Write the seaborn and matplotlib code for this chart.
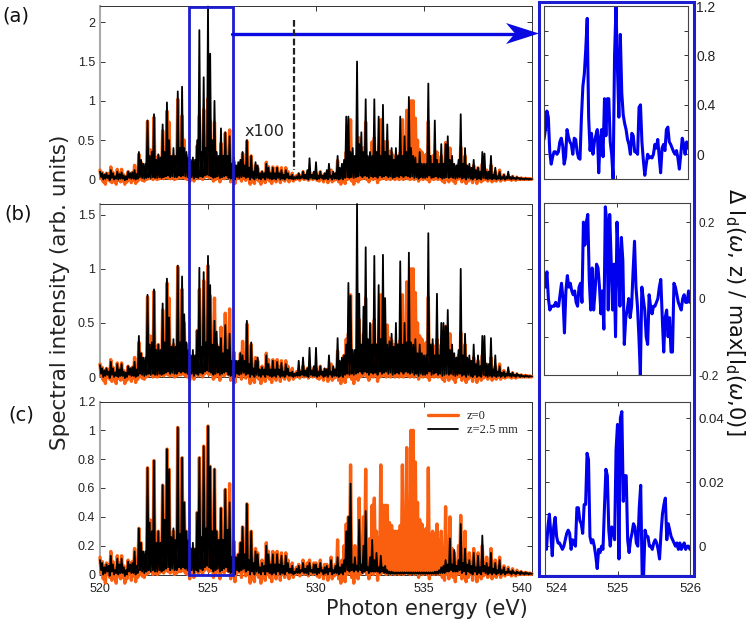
import numpy as np
import matplotlib
matplotlib.use('Agg')
import matplotlib.pyplot as plt
from matplotlib.patches import Rectangle, Polygon
import seaborn as sns

# z=0 spectrum (same one in all panels): tops every 0.1 eV, dips halfway between them
orange_top = [
    .12, .09, .06, .08, .07, .16, .09, .04, .13, .08,
    .13, .06, .04, .1, .08, .09, .18, .07, .32, .22,
    .14, .12, .74, .38, .37, .79, .2, .3, .2, .62,
    .38, .87, .73, .25, .3, .2, 1.02, .28, .81, .5,
    .3, .2, .1, .18, .12, .43, .81, .25, .89, .35,
    1.03, .75, .3, .73, .3, .2, .46, .25, .59, .31,
    .63, .08, .23, .1, .14, .22, .33, .15, .49, .08,
    .3, .1, .18, .15, .06, .1, .07, .22, .16, .08,
    .16, .08, .16, .09, .15, .07, .15, .1, .05, .08,
    .03, .05, .07, .04, .1, .05, .08, .1, .04, .08,
    .08, .05, .1, .04, .07, .07, .05, .12, .04, .07,
    .24, .08, .1, .2, .35, .4, .76, .08, .2, .1,
    .53, .2, .4, .73, .2, .25, .48, .53, .3, .25,
    .76, .48, .48, .48, .36, .34, .3, .3, .3, .34,
    .76, .36, .88, .5, 1.0, 1.0, .78, .5, .38, .35,
    .3, .32, .74, .28, .3, .28, .35, .24, .3, .18,
    .47, .15, .4, .18, .15, .08, .2, .41, .1, .3,
    .1, .15, .08, .18, .06, .15, .05, .2, .08, .12,
    .06, .18, .05, .1, .03, .12, .03, .06, .02, .05,
    .02, .04, .01, .03, .01, .02, .01, .015, .01, .01,
    .005,
]
orange_dip = [
    .01, -.03, -.06, 0, -.02, -.04, 0, -.06, -.01, -.03,
    -.02, -.06, -.03, 0, -.04, -.01, -.05, -.02, .01, -.01,
    -.02, 0, .01, .02, 0, .01, 0, .01, .02, .01,
    .03, .02, .01, .02, 0, .01, .02, .02, .03, .01,
    0, -.03, .01, -.02, .02, .01, .02, 0, .03, .04,
    .02, .03, -.02, 0, .02, -.03, .02, .01, .03, .02,
    -.03, 0, -.05, .01, .02, -.02, .02, -.01, .01, -.06,
    -.03, -.05, 0, -.02, -.06, .01, -.04, 0, -.02, -.05,
    0, -.03, .01, -.04, 0, -.02, .01, -.03, .01, -.02,
    0, .01, -.01, .02, 0, .01, -.01, .01, 0, .01,
    -.01, -.02, 0, -.03, .01, -.04, 0, -.03, -.01, 0,
    -.03, -.06, -.02, -.05, 0, .01, -.02, -.06, -.01, -.03,
    0, .01, .02, 0, -.03, .01, 0, .02, -.04, 0,
    .01, .02, 0, .01, 0, .02, 0, .01, 0, .01,
    0, .02, .01, 0, .01, 0, .02, -.02, .01, 0,
    .01, 0, -.03, .01, 0, .01, 0, .01, -.02, -.04,
    0, -.03, .01, -.02, -.05, 0, .01, -.03, 0, -.05,
    -.02, 0, -.04, 0, -.05, 0, -.03, -.01, 0, -.02,
    0, -.03, -.01, -.02, 0, -.02, 0, -.01, 0, 0,
    -.01, 0, -.01, 0, 0, 0, 0, 0, 0, 0,
]

# z=2.5 mm spectra for panels (a), (b), (c)
black_a_top = [
    .1, .08, .06, .08, .05, .12, .08, .04, .1, .07,
    .09, .05, .04, .1, .08, .09, .12, .07, .35, .25,
    .2, .2, .75, .3, .35, .83, .25, .32, .28, .7,
    .35, .98, .5, .3, .4, .3, 1.12, .4, 1.18, .4,
    .35, .28, .25, .28, .25, .5, 1.9, .35, 1.3, .4,
    2.2, 1.6, .5, 1.0, .35, .3, .65, .3, .6, .3,
    .55, .2, .28, .18, .22, .25, .35, .18, .5, .15,
    .3, .1, .22, .18, .08, .1, .08, .2, .15, .08,
    .15, .08, .15, .08, .12, .06, .12, .08, .04, .06,
    .03, .04, .08, .04, .1, .06, .12, .27, .06, .1,
    .22, .05, .1, .05, .08, .12, .2, .05, .1, .08,
    .3, .15, .2, .25, .8, .8, .35, .4, .3, 1.5,
    .45, .6, .35, 1.02, .3, .35, .3, 1.02, .35, .8,
    .3, .95, .35, .7, .3, .4, .25, .4, .3, .8,
    .3, .55, .35, 1.05, .4, .3, .28, .2, .35, .2,
    .2, .2, 1.22, .3, .2, .75, .25, .2, .45, .2,
    .45, .55, .25, .3, .2, .18, .25, .83, .2, .4,
    .18, .2, .15, .25, .12, .15, .1, .35, .33, .1,
    .1, .3, .06, .15, .04, .1, .03, .06, .03, .1,
    .03, .04, .02, .03, .02, .02, .01, .015, .01, .01,
    .005,
]
black_b_top = [
    .11, .08, .06, .08, .05, .14, .08, .04, .12, .07,
    .12, .05, .04, .1, .08, .09, .14, .07, .38, .22,
    .18, .18, .76, .3, .32, .81, .25, .3, .25, .68,
    .32, .91, .55, .28, .35, .28, 1.03, .32, .93, .58,
    .32, .25, .2, .25, .2, .43, 1.01, .28, .97, .32,
    1.12, .85, .3, .52, .42, .28, .36, .22, .48, .25,
    .4, .15, .2, .15, .15, .22, .2, .15, .52, .12,
    .32, .08, .15, .18, .07, .09, .07, .2, .12, .07,
    .15, .07, .14, .07, .13, .05, .12, .08, .04, .05,
    .03, .04, .15, .05, .18, .06, .08, .27, .06, .1,
    .27, .05, .1, .05, .08, .07, .2, .05, .1, .07,
    .36, .15, .18, .2, .3, .87, .75, .25, .25, 1.6,
    .77, .3, .65, 1.2, .35, .5, .3, 1.12, .3, .85,
    .35, 1.13, .73, .3, .33, .4, .28, .5, .3, 1.07,
    .3, .5, .32, 1.15, .32, .3, .35, .22, .3, .22,
    .2, .2, 1.33, .3, .35, .2, .77, .2, .5, .5,
    .47, .62, .25, .3, .22, .18, .25, 1.0, .2, .4,
    .18, .2, .15, .3, .12, .2, .1, .38, .38, .12,
    .12, .36, .07, .2, .05, .1, .04, .05, .03, .09,
    .03, .04, .02, .03, .02, .02, .01, .015, .01, .01,
    .005,
]
black_c_top = [
    .1, .08, .05, .07, .06, .13, .07, .03, .11, .07,
    .11, .05, .03, .09, .07, .08, .16, .06, .32, .22,
    .16, .16, .74, .36, .3, .79, .22, .3, .22, .62,
    .38, .87, .73, .26, .32, .24, 1.02, .28, .81, .5,
    .3, .24, .18, .22, .18, .43, .81, .26, .89, .32,
    1.03, .75, .3, .73, .3, .24, .46, .24, .59, .31,
    .5, .12, .2, .12, .14, .22, .33, .14, .49, .1,
    .3, .08, .16, .14, .05, .08, .06, .2, .14, .07,
    .14, .07, .14, .07, .13, .06, .13, .08, .04, .06,
    .02, .04, .06, .03, .08, .04, .06, .08, .03, .07,
    .07, .04, .08, .03, .05, .06, .04, .1, .03, .06,
    .12, .05, .07, .1, .3, .4, .63, .07, .12, .06,
    .38, .07, .2, .44, .05, .12, .24, .1, .15, .05,
    .13, .05, .06, .03, .02, .02, .015, .015, .015, .015,
    .015, .015, .015, .015, .015, .015, .015, .015, .015, .015,
    .015, .015, .015, .015, .015, .02, .02, .03, .05, .06,
    .1, .07, .25, .07, .17, .06, .1, .35, .08, .18,
    .07, .1, .06, .15, .05, .13, .05, .27, .06, .08,
    .05, .15, .04, .08, .03, .1, .03, .05, .02, .04,
    .02, .03, .015, .02, .015, .02, .01, .015, .01, .01,
    .005,
]
black_dip = [
    .03, 0, .01, .02, -.01, .02, 0, .01, 0, .01,
    .01, -.01, 0, .02, .01, .01, 0, .01, .03, .02,
    .01, .02, .03, .02, .03, .02, .02, .03, .02, .03,
    .04, .05, .03, .04, .03, .03, .05, .04, .05, .04,
    .03, .02, .03, .01, .03, .02, .04, .03, .05, .06,
    .05, .04, .02, .03, .04, .02, .03, .04, .05, .02,
    .01, .02, 0, .03, .02, .03, .04, .02, .03, 0,
    .02, 0, .02, .01, 0, .02, 0, .02, .01, 0,
    .01, 0, .02, 0, .01, 0, .02, .01, .01, 0,
    .01, .01, .01, .02, .01, .01, 0, .02, .01, .01,
    0, .01, .02, 0, .01, 0, .02, 0, .01, .01,
    0, .01, 0, .02, .03, .02, .03, .02, .03, .04,
    .05, .03, .05, .04, .02, .04, .03, .04, .02, .05,
    .03, .04, .05, .03, .04, .02, .03, .04, .03, .05,
    .03, .05, .04, .03, .04, .02, .03, .01, .03, .02,
    .02, .03, .05, .02, .03, .04, .02, .03, .01, .02,
    .03, .02, .03, .02, .01, .02, .03, .01, .02, 0,
    .02, .01, 0, .02, 0, .01, 0, .02, .01, 0,
    .01, 0, .01, 0, .01, 0, .01, 0, .01, .01,
    0, .01, 0, .01, 0, .005, 0, .005, 0, .005,
]
black_c_dip = [
    .03, 0, .01, .02, -.01, .02, 0, .01, 0, .01,
    .01, -.01, 0, .02, .01, .01, 0, .01, .03, .02,
    .01, .02, .03, .02, .03, .02, .02, .03, .02, .03,
    .04, .05, .03, .04, .03, .03, .05, .04, .05, .04,
    .03, .02, .03, .01, .03, .02, .04, .03, .05, .06,
    .05, .04, .02, .03, .04, .02, .03, .04, .05, .02,
    .01, .02, 0, .03, .02, .03, .04, .02, .03, 0,
    .02, 0, .02, .01, 0, .02, 0, .02, .01, 0,
    .01, 0, .02, 0, .01, 0, .02, .01, .01, 0,
    .01, .01, .01, .02, .01, .01, 0, .02, .01, .01,
    0, .01, .02, 0, .01, 0, .02, 0, .01, .01,
    0, .01, 0, .02, .03, .02, .03, .02, .03, .02,
    .03, .01, .02, .03, .01, .02, .02, .02, .02, .01,
    .02, .01, .01, .005, .005, .005, .005, .005, .005, .005,
    .005, .005, .005, .005, .005, .005, .005, .005, .005, .005,
    .005, .005, .005, .005, .005, .005, .005, .01, .01, .01,
    .02, .02, .03, .02, .02, .02, .03, .01, .02, 0,
    .02, .01, 0, .02, 0, .01, 0, .02, .01, 0,
    .01, 0, .01, 0, .01, 0, .01, 0, .01, .01,
    0, .01, 0, .01, 0, .005, 0, .005, 0, .005,
]

# zoomed difference curves, 0.02 eV steps from 524 to 526
diff_a = [
    .12, .2, .35, .3, .02, -.08, -.02, .02, .02, 0, .02, .1, .13, .07, -.08, -.02, .2,
    .14, .1, .08, 0, .13, .12, .02, -.03, -.04, .3, .55, .65, .85, 1.1, .3, .03, .17,
    0, .1, .15, .2, -.15, .12, .2, -.02, .45, .15, .45, .45, .1, 0, -.2, .8, 1.2, .7,
    .3, .97, .5, .32, .25, .2, .12, .08, 0, .17, .15, .02, .02, 0, .38, .4, .1, -.05,
    -.17, -.08, 0, -.03, -.02, -.03, 0, .08, .05, .12, -.02, -.15, .05, .08, .03, .2,
    .22, .1, .08, .05, .02, 0, .03, -.03, -.12, 0, .13, .08, 0, .1, .05,
]
diff_b = [
    .05, .03, .07, 0, -.03, -.02, -.02, -.02, -.01, -.02, -.02, .01, .04, 0, -.09, .02,
    .06, .03, .04, .02, .01, .02, -.01, -.02, .03, .04, -.01, .2, .14, .2, .22, .05, -.03,
    .08, -.03, .02, .09, .08, .03, -.04, .02, -.08, .24, .2, -.03, .22, .1, -.03, .09,
    -.1, .2, .1, -.02, .16, .1, -.12, -.05, -.03, 0, -.05, -.02, .07, .15, .03, -.02, -.1,
    -.2, .03, 0, -.03, -.1, -.12, .01, -.02, -.04, -.02, -.02, -.01, 0, .03, .05, -.05,
    -.14, -.05, -.03, -.1, -.05, -.14, -.14, .04, .03, .01, -.01, -.02, -.03, 0, .01, -.01,
    -.01, .02, -.01,
]
diff_c = [
    .002, -.001, .006, .01, .004, -.003, .006, .009, .003, .001, .001, 0, -.001, 0, .002,
    .004, .005, .004, -.001, .002, .001, 0, .012, .012, .008, .007, .004, .013, .013, .029,
    .027, .003, .001, .002, 0, -.003, -.007, -.001, -.002, 0, -.001, .012, .024, .022, .005,
    0, .006, .005, .002, .03, .038, -.004, .04, .042, .014, .022, .022, .002, -.002, .002,
    .004, .007, .006, .001, 0, .012, .019, -.009, -.009, .005, .003, .003, 0, 0, -.001,
    .001, .002, .001, -.001, -.004, .004, .01, .013, .015, .002, .007, .005, .003, .002,
    .001, 0, .001, -.001, .001, -.001, 0, .001, -.001, 0, 0, -.001,
]


def weave(top, dip):
    out = np.empty(len(top) + len(dip))
    out[0::2] = top
    out[1::2] = dip
    return out


orange = weave(orange_top, orange_dip)
black_a = weave(black_a_top, black_dip)
black_b = weave(black_b_top, black_dip)
black_c = weave(black_c_top, black_c_dip)
energy = np.linspace(520, 540, len(orange))

main_ticks = [[0, .5, 1, 1.5, 2], [0, .5, 1, 1.5], [0, .2, .4, .6, .8, 1, 1.2]]
main_labels = [['0', '0.5', '1', '1.5', '2'], ['0', '0.5', '1', '1.5'],
               ['0', '0.2', '0.4', '0.6', '0.8', '1', '1.2']]
side_ticks = [[0, .2, .4, .6, .8, 1, 1.2], [-.2, -.1, 0, .1, .2], [0, .01, .02, .03, .04]]
side_labels = [['0', '', '0.4', '', '0.8', '', '1.2'], ['-0.2', '', '0', '', '0.2'],
               ['0', '', '0.02', '', '0.04']]

sns.set_style('white')
plt.rcParams['font.family'] = ['Liberation Sans', 'DejaVu Sans']
W, H = 752, 627
fig = plt.figure(figsize=(W / 100, H / 100), dpi=100)


def add_ax(left, top, right, bottom):
    return fig.add_axes([left / W, 1 - bottom / H, (right - left) / W, (bottom - top) / H])


main_boxes = [(100, 6.5, 532, 179.5), (100, 204, 532, 377), (100, 401.5, 532, 574.5)]
side_boxes = [(544, 6, 688, 179), (544, 203, 690, 375), (545, 402, 690, 575)]
main_tops = [2.2, 1.6, 1.2]
side_lims = [(-.2, 1.2), (-.2, .25), (-.009, .045)]
blacks = [black_a, black_b, black_c]
diffs = [diff_a, diff_b, diff_c]

for i in range(3):
    ax = add_ax(*main_boxes[i])
    z0 = 'z=0' if i == 2 else None
    z1 = 'z=2.5 mm' if i == 2 else None
    sns.lineplot(x=energy, y=orange, ax=ax, color='#fa5f10', lw=2.4, label=z0, legend=False,
                 clip_on=False, zorder=3)
    sns.lineplot(x=energy, y=blacks[i], ax=ax, color='black', lw=1.3, label=z1, legend=False,
                 clip_on=False, zorder=4)
    ax.set_xlim(520, 540)
    ax.set_ylim(0, main_tops[i])
    ax.set_xticks([520, 525, 530, 535, 540])
    ax.set_yticks(main_ticks[i])
    ax.set_yticklabels(main_labels[i])
    ax.tick_params(direction='in', length=3.5, width=.7, labelsize=9, top=True, right=True,
                   bottom=True, left=True, color='#333333', labelcolor='#222222', pad=3.5)
    ax.tick_params(axis='x', pad=6)
    if i < 2:
        ax.set_xticklabels([])
    else:
        ax.get_xticklabels()[-1].set_ha('right')
    for s in ['top', 'right', 'bottom']:
        ax.spines[s].set_color('#333333')
        ax.spines[s].set_linewidth(.7)
    ax.spines['left'].set_color('#aaaaaa')
    ax.spines['left'].set_linewidth(1.5)

    sax = add_ax(*side_boxes[i])
    zoom_x = np.linspace(524, 526, len(diffs[i]))
    sns.lineplot(x=zoom_x, y=diffs[i], ax=sax, color='#0000ee', lw=2.2)
    sax.set_xlim(524, 526)
    sax.set_ylim(*side_lims[i])
    sax.set_xticks([524, 525, 526])
    sax.set_yticks(side_ticks[i])
    sax.set_yticklabels(side_labels[i])
    sax.yaxis.tick_right()
    sax.tick_params(direction='in', length=3, width=.7, labelsize=[10, 8.5, 9.5][i], top=True,
                    right=True, bottom=True, left=True, color='#333333', labelcolor='#222222',
                    pad=6)
    if i < 2:
        sax.set_xticklabels([])
    else:
        sax.get_xticklabels()[0].set_ha('left')
    for s in sax.spines.values():
        s.set_color('#444444')
        s.set_linewidth(.8)

    if i == 2:
        ax.legend(loc='upper left', bbox_to_anchor=(.748, .98), frameon=False,
                  prop={'family': 'Liberation Serif', 'size': 9}, handlelength=2.4,
                  labelspacing=.2, handletextpad=.7, borderaxespad=0)

# overlay in pixels for the labels and the blue frames
over = fig.add_axes([0, 0, 1, 1], zorder=10)
over.set_xlim(0, W)
over.set_ylim(H, 0)
over.axis('off')
over.patch.set_alpha(0)

blue = '#1c1cd0'
over.add_patch(Rectangle((189, 7), 43.5, 567.5, fill=False, ec=blue, lw=2))
over.add_patch(Rectangle((539, 2), 155, 574, fill=False, ec=blue, lw=2.2))
over.plot([232, 515], [33.5, 33.5], color='#0a0ae0', lw=2.4)
over.add_patch(Polygon([(506, 23), (539, 33.5), (506, 44), (515, 33.5)], fc='#0a0ae0', ec='none'))
over.plot([294, 294], [20, 170], color='#222222', lw=1.6, ls=(0, (3, 1.2)))

dv = ['DejaVu Sans']
over.text(245, 131, 'x100', fontsize=11.5, family=dv, va='center', color='#222222')
over.text(2, 16, '(a)', fontsize=14, family=dv, va='center', color='#111111')
over.text(4, 214, '(b)', fontsize=14, family=dv, va='center', color='#111111')
over.text(8, 415, '(c)', fontsize=14, family=dv, va='center', color='#111111')
over.text(60, 292, 'Spectral intensity (arb. units)', fontsize=15.5, family=dv, rotation=90,
          va='center', ha='center', color='#222222')
over.text(427, 609, 'Photon energy (eV)', fontsize=15, family=dv, va='center', ha='center',
          color='#222222')
over.text(735, 312, r'$\Delta$ I$_{\rm d}$($\omega$, z) / max[I$_{\rm d}$($\omega$,0)]',
          fontsize=15, family=dv, rotation=270, va='center', ha='center', color='#111111')

fig.savefig('out.png', dpi=100)
